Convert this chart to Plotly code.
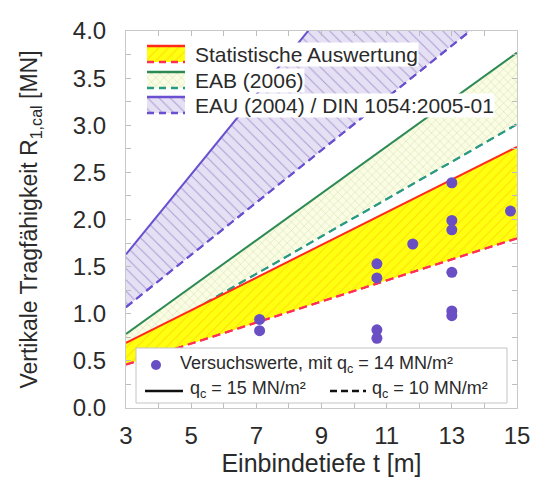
import plotly.graph_objects as go

# ---- data ----
t_ends = [3, 15]
stat_upper = [0.69, 2.77]   # Statistische Auswertung, qc = 15
stat_lower = [0.46, 1.80]   # Statistische Auswertung, qc = 10
eab_upper = [0.785, 3.77]   # EAB (2006), qc = 15
eab_lower = [0.63, 3.01]    # EAB (2006), qc = 10
eau_upper = [1.63, 6.72]    # EAU (2004) / DIN 1054, qc = 15
eau_lower = [1.07, 4.40]    # EAU (2004) / DIN 1054, qc = 10

test_t = [7.1, 7.1, 10.7, 10.7, 10.7, 10.7, 11.8, 13.0, 13.0, 13.0, 13.0, 13.0, 13.0, 14.8]
test_r = [0.94, 0.82, 1.53, 1.38, 0.83, 0.74, 1.74, 2.39, 1.99, 1.89, 1.44, 1.03, 0.98, 2.09]

x_ticks = [3, 5, 7, 9, 11, 13, 15]
y_ticks = [0.0, 0.5, 1.0, 1.5, 2.0, 2.5, 3.0, 3.5, 4.0]

legend_labels = ["Statistische Auswertung", "EAB (2006)", "EAU (2004) / DIN 1054:2005-01"]
legend2_points = "Versuchswerte, mit q<sub>c</sub> = 14 MN/m²"
legend2_solid = "q<sub>c</sub> = 15 MN/m²"
legend2_dash = "q<sub>c</sub> = 10 MN/m²"

# ---- styles ----
RED = "#ff2a1a"
RED_D = "#ff2f55"
GREEN = "#2e8a55"
GREEN_D = "#2a9a85"
PURPLE = "#6a50d0"
DOT = "#6a4fc4"
DASH = "8px,5px"
FONT = "Liberation Sans, Arial, sans-serif"
TXT = "#2a2a2a"

pat_stat = dict(shape="/", bgcolor="#ffff10", fgcolor="#ff8c00", fgopacity=0.3, size=7, solidity=0.15)
pat_eab = dict(shape="x", bgcolor="#fafce4", fgcolor="#b0c880", fgopacity=0.8, size=6, solidity=0.12)
pat_eau = dict(shape="\\", bgcolor="#e6e0f4", fgcolor="#9a8ac8", fgopacity=0.8, size=8, solidity=0.12)

bands = [
    (eau_lower, eau_upper, PURPLE, PURPLE, pat_eau),
    (eab_lower, eab_upper, GREEN_D, GREEN, pat_eab),
    (stat_lower, stat_upper, RED_D, RED, pat_stat),
]

fig = go.Figure()
for lower, upper, cl, cu, pat in bands:
    fig.add_trace(go.Scatter(x=t_ends, y=lower, mode="lines",
                             line=dict(color=cl, width=2, dash=DASH), showlegend=False, hoverinfo="skip"))
    fig.add_trace(go.Scatter(x=t_ends, y=upper, mode="lines", fill="tonexty", fillpattern=pat,
                             line=dict(color=cu, width=2), showlegend=False, hoverinfo="skip"))
    # redraw lower line on top of the fill
    fig.add_trace(go.Scatter(x=t_ends, y=lower, mode="lines",
                             line=dict(color=cl, width=2, dash=DASH), showlegend=False, hoverinfo="skip"))

fig.add_trace(go.Scatter(x=test_t, y=test_r, mode="markers",
                         marker=dict(color=DOT, size=11, line=dict(width=0)),
                         showlegend=False))

# ---- plot area geometry (pixels) ----
W, H = 535, 495
L, R, T, B = 126, 517, 31, 408
def px(x):
    return (x - L) / (R - L)
def py(y):
    return (B - y) / (B - T)

# ---- upper legend swatches on an overlay axis ----
rows = [(54, RED, RED_D, pat_stat), (80, GREEN, GREEN_D, pat_eab), (105, PURPLE, PURPLE, pat_eau)]
sx0, sx1 = 147, 185
for (cy, cu, cl, pat), lab in zip(rows, legend_labels):
    y0, y1 = cy - 8, cy + 8
    fig.add_trace(go.Scatter(x=[px(sx0), px(sx1), px(sx1), px(sx0)], y=[py(y0), py(y0), py(y1), py(y1)],
                             mode="none", fill="toself", fillpattern=pat, xaxis="x2", yaxis="y2",
                             showlegend=False, hoverinfo="skip"))
    fig.add_trace(go.Scatter(x=[px(sx0), px(sx1)], y=[py(y0), py(y0)], mode="lines",
                             line=dict(color=cu, width=2.5), xaxis="x2", yaxis="y2",
                             showlegend=False, hoverinfo="skip"))
    fig.add_trace(go.Scatter(x=[px(sx0), px(sx1)], y=[py(y1), py(y1)], mode="lines",
                             line=dict(color=cl, width=2.5, dash="7px,5px"), xaxis="x2", yaxis="y2",
                             showlegend=False, hoverinfo="skip"))
    fig.add_annotation(x=px(194), y=py(cy), xref="paper", yref="paper", text=lab, showarrow=False,
                       xanchor="left", yanchor="middle", font=dict(family=FONT, size=21, color=TXT),
                       bgcolor="white", borderpad=0)

# ---- lower legend box ----
shapes = [
    dict(type="rect", xref="paper", yref="paper", x0=px(136), x1=px(507), y0=py(403), y1=py(348),
         fillcolor="white", line=dict(color="#c4c4c4", width=1), layer="above"),
    dict(type="circle", xref="paper", yref="paper", x0=px(151), x1=px(161), y0=py(370), y1=py(360),
         fillcolor=DOT, line=dict(width=0), layer="above"),
    dict(type="line", xref="paper", yref="paper", x0=px(145), x1=px(183), y0=py(391), y1=py(391),
         line=dict(color="#111111", width=2.5), layer="above"),
    dict(type="line", xref="paper", yref="paper", x0=px(330), x1=px(366), y0=py(391), y1=py(391),
         line=dict(color="#111111", width=2.5, dash="7px,4px"), layer="above"),
]
fig.add_annotation(x=px(178), y=py(364), xref="paper", yref="paper", text=legend2_points, showarrow=False,
                   xanchor="left", yanchor="middle", font=dict(family=FONT, size=18, color=TXT))
fig.add_annotation(x=px(188), y=py(389), xref="paper", yref="paper", text=legend2_solid, showarrow=False,
                   xanchor="left", yanchor="middle", font=dict(family=FONT, size=18, color=TXT))
fig.add_annotation(x=px(370), y=py(389), xref="paper", yref="paper", text=legend2_dash, showarrow=False,
                   xanchor="left", yanchor="middle", font=dict(family=FONT, size=18, color=TXT))

fig.update_layout(
    width=W, height=H,
    margin=dict(l=L, r=W - R, t=T, b=H - B, autoexpand=False),
    paper_bgcolor="white", plot_bgcolor="white",
    font=dict(family=FONT, color=TXT),
    shapes=shapes,
    xaxis=dict(range=[3, 15], tickvals=x_ticks, ticktext=[str(v) for v in x_ticks],
               ticks="inside", ticklen=5, tickcolor="#bdbdbd", showline=True, linecolor="#c8c8c8",
               mirror="ticks", showgrid=False, zeroline=False, ticklabelstandoff=6,
               minor=dict(dtick=1, tick0=3, ticks="inside", ticklen=5, tickcolor="#bdbdbd"),
               tickfont=dict(size=24, color=TXT),
               title=dict(text="Einbindetiefe t [m]", font=dict(size=25, color=TXT), standoff=4)),
    yaxis=dict(range=[0, 4], tickvals=y_ticks, ticktext=[f"{v:.1f}" for v in y_ticks],
               ticks="inside", ticklen=5, tickcolor="#bdbdbd", showline=True, linecolor="#c8c8c8",
               mirror="ticks", showgrid=False, zeroline=False, ticklabelstandoff=14,
               minor=dict(dtick=0.25, ticks="inside", ticklen=5, tickcolor="#bdbdbd"),
               tickfont=dict(size=24, color=TXT),
               title=dict(text="Vertikale Tragfähigkeit R<sub>1,cal</sub> [MN]", font=dict(size=23, color=TXT),
                          standoff=28)),
    xaxis2=dict(overlaying="x", range=[0, 1], visible=False, fixedrange=True),
    yaxis2=dict(overlaying="y", range=[0, 1], visible=False, fixedrange=True),
)

fig.write_html("out.html")
